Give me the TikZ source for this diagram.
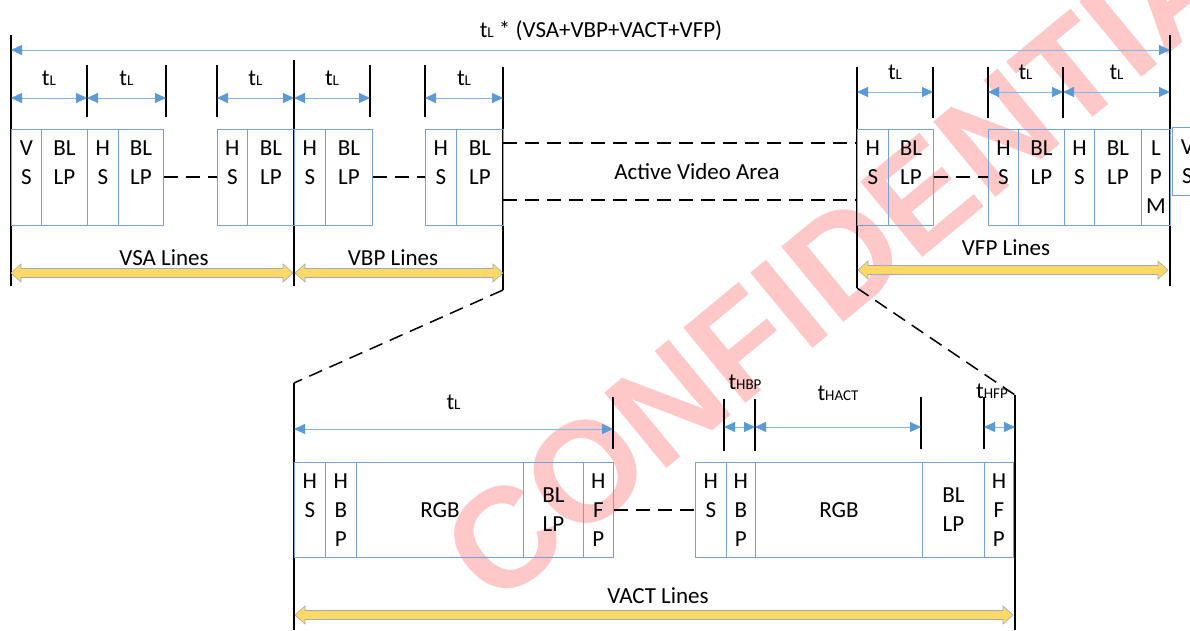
\documentclass[tikz,border=0pt]{standalone}
\usepackage{fontspec}
\setmainfont{Carlito}
\newfontfamily\markfont{Liberation Sans}
\usetikzlibrary{arrows.meta,calc}

\definecolor{timeblue}{RGB}{91,155,213}
\definecolor{cellblue}{RGB}{120,160,212}
\definecolor{bandyellow}{RGB}{255,217,102}
\definecolor{bandedge}{RGB}{160,170,185}
\definecolor{markred}{RGB}{255,200,200}

\tikzset{
  cell/.style={draw=cellblue, line width=0.8pt, anchor=north west, inner sep=0pt, align=center, minimum height=96pt},
  bar/.style={line width=1.6pt},
  gap/.style={line width=1.5pt, dash pattern=on 14pt off 8pt},
  timearrow/.style={draw=timeblue!75, line width=0.9pt, {Triangle[length=11pt,width=10pt,color=timeblue]}-{Triangle[length=11pt,width=10pt,color=timeblue]}},
  tl/.style={above=12pt, inner sep=0pt},
  tlabel/.style={inner sep=0pt, anchor=base},
  band/.style={draw=bandedge, fill=bandyellow, line width=0.6pt,
    to path={-- ++(10,-9) -- ++(0,4.5) -- ($(\tikztotarget)+(-10,-4.5)$) -- ++(0,-4.5) -- (\tikztotarget)
      -- ++(-10,9) -- ++(0,-4.5) -- ($(\tikztostart)+(10,4.5)$) -- ++(0,4.5) -- cycle}}
}
\newcommand{\tsub}[1]{t{\fontsize{15}{15}\selectfont #1}}

\begin{document}
\begin{tikzpicture}[x=1pt, y=-1pt, font=\fontsize{23}{29}\selectfont]
\useasboundingbox (0,0) rectangle (1190,630);
\clip (0,0) rectangle (1190,630);

% watermark
\node[rotate=39.5, text=markred, font=\markfont\bfseries\fontsize{142}{142}\selectfont] (mark) at (872,236) {CONFIDENTIAL};

% long lines
\foreach \n/\x/\ya/\yb in {v0/11/35/286, v1/294/60/286, v2/503/67/290, v3/857/67/288,
    v4/1170/35/286, v5/294/383/630, v6/1015/395/630}
  {\coordinate (\n t) at (\x,\ya); \coordinate (\n b) at (\x,\yb);
   \draw[bar] (\n t) -- (\n b);}

% short ticks
\foreach \n/\x/\ya/\yb in {k1/87/65/117, k2/166/65/117, k3/217/65/117, k4/370/65/117, k5/425/65/117,
    k6/933/67/118, k7/988/67/118, k8/1063/67/118,
    k9/613/397/449, k10/724/399/451, k11/755/399/451, k12/921/397/449, k13/984/397/449}
  {\coordinate (\n t) at (\x,\ya); \coordinate (\n b) at (\x,\yb);
   \draw[bar] (\n t) -- (\n b);}

% arrow ends
\foreach \n/\x in {p0/11, p1/87, p2/166, p3/217, p4/294, p5/370, p6/425, p7/503}
  \coordinate (\n) at (\x,98);
\foreach \n/\x in {q0/857, q1/933, q2/988, q3/1063, q4/1170}
  \coordinate (\n) at (\x,92);
\foreach \n/\x in {s0/724, s1/755, s2/921, s3/984, s4/1015}
  \coordinate (\n) at (\x,427);
\coordinate (r0) at (294,429);
\coordinate (r1) at (613,429);
\coordinate (w0) at (11,50);
\coordinate (w1) at (1170,50);

% time arrows
\draw[timearrow] (w0) -- (w1);
\node[tlabel] (title) at (601,37) {\tsub{L} * (VSA+VBP+VACT+VFP)};
\draw[timearrow] (p0) -- node[tl] (l1) {\tsub{L}} (p1);
\draw[timearrow] (p1) -- node[tl] (l2) {\tsub{L}} (p2);
\draw[timearrow] (p3) -- node[tl] (l3) {\tsub{L}} (p4);
\draw[timearrow] (p4) -- node[tl] (l4) {\tsub{L}} (p5);
\draw[timearrow] (p6) -- node[tl] (l5) {\tsub{L}} (p7);
\draw[timearrow] (q0) -- node[tl] (l6) {\tsub{L}} (q1);
\draw[timearrow] (q2) -- node[tl] (l7) {\tsub{L}} (q3);
\draw[timearrow] (q3) -- node[tl] (l8) {\tsub{L}} (q4);
\draw[timearrow] (r0) -- node[tl, above=7pt] (l9) {\tsub{L}} (r1);
\draw[timearrow] (s0) -- (s1);
\draw[timearrow] (s1) -- node[tl, above=14pt] (l10) {\tsub{HACT}} (s2);
\draw[timearrow] (s3) -- (s4);
\node[tlabel] (hbp) at (745,389) {\tsub{HBP}};
\node[tlabel] (hfp) at (992,398) {\tsub{HFP}};

% line cells, top
\foreach \n/\x/\w/\txt in {c1/11/30/{V\\S\\~}, c2/41/46/{BL\\LP\\~}, c3/87/31/{H\\S\\~}, c4/118/45/{BL\\LP\\~},
    c5/217/30/{H\\S\\~}, c6/247/47/{BL\\LP\\~}, c7/294/31/{H\\S\\~}, c8/325/47/{BL\\LP\\~},
    c9/425/31/{H\\S\\~}, c10/456/47/{BL\\LP\\~}, c11/857/31/{H\\S\\~}, c12/888/45/{BL\\LP\\~},
    c13/988/30/{H\\S\\~}, c14/1018/46/{BL\\LP\\~}, c15/1064/30/{H\\S\\~}, c16/1094/47/{BL\\LP\\~},
    c17/1141/29/{L\\P\\M}}
  \node[cell, minimum width=\w pt] (\n) at (\x,128.5) {\txt};
\node[cell, minimum width=30pt, minimum height=68pt] (c18) at (1172,127) {V\\S};

% line cells, bottom
\foreach \n/\x/\w/\txt in {b1/294/31/{H\\S\\~}, b2/325/31/{H\\B\\P}, b3/356/167/{RGB}, b4/523/60/{BL\\LP},
    b5/583/30/{H\\F\\P}, b6/695/31/{H\\S\\~}, b7/726/29/{H\\B\\P}, b8/755/167/{RGB}, b9/922/62/{BL\\LP},
    b10/984/29/{H\\F\\P}}
  \node[cell, minimum width=\w pt, minimum height=95pt] (\n) at (\x,462) {\txt};

% skipped lines
\draw[gap] (c4) -- (c5);
\draw[gap] (c8) -- (c9);
\draw[gap] (c12) -- (c13);
\draw[gap] (b5) -- (b6);

% active area
\coordinate (av1) at (503,143);
\coordinate (av2) at (857,143);
\coordinate (av3) at (503,200);
\coordinate (av4) at (857,200);
\draw[gap] (av1) -- (av2);
\draw[gap] (av3) -- (av4);
\node (active) at (697,172) {Active Video Area};

% zoom
\draw[gap] (v2b) -- (v5t);
\draw[gap] (v3b) -- (v6t);

% line groups
\coordinate (vsa1) at (11,273);
\coordinate (vsa2) at (293,273);
\coordinate (vbp1) at (295,273);
\coordinate (vbp2) at (503,273);
\coordinate (vfp1) at (858,270);
\coordinate (vfp2) at (1168,270);
\coordinate (vact1) at (295,615);
\coordinate (vact2) at (1013,615);
\draw[band] (vsa1) to (vsa2);
\draw[band] (vbp1) to (vbp2);
\draw[band] (vfp1) to (vfp2);
\draw[band] (vact1) to (vact2);
\node[tlabel] (vsa) at (164,265) {VSA Lines};
\node[tlabel] (vbp) at (393,265) {VBP Lines};
\node[tlabel] (vfp) at (1006,255) {VFP Lines};
\node[tlabel] (vact) at (658,603) {VACT Lines};
\end{tikzpicture}
\end{document}
